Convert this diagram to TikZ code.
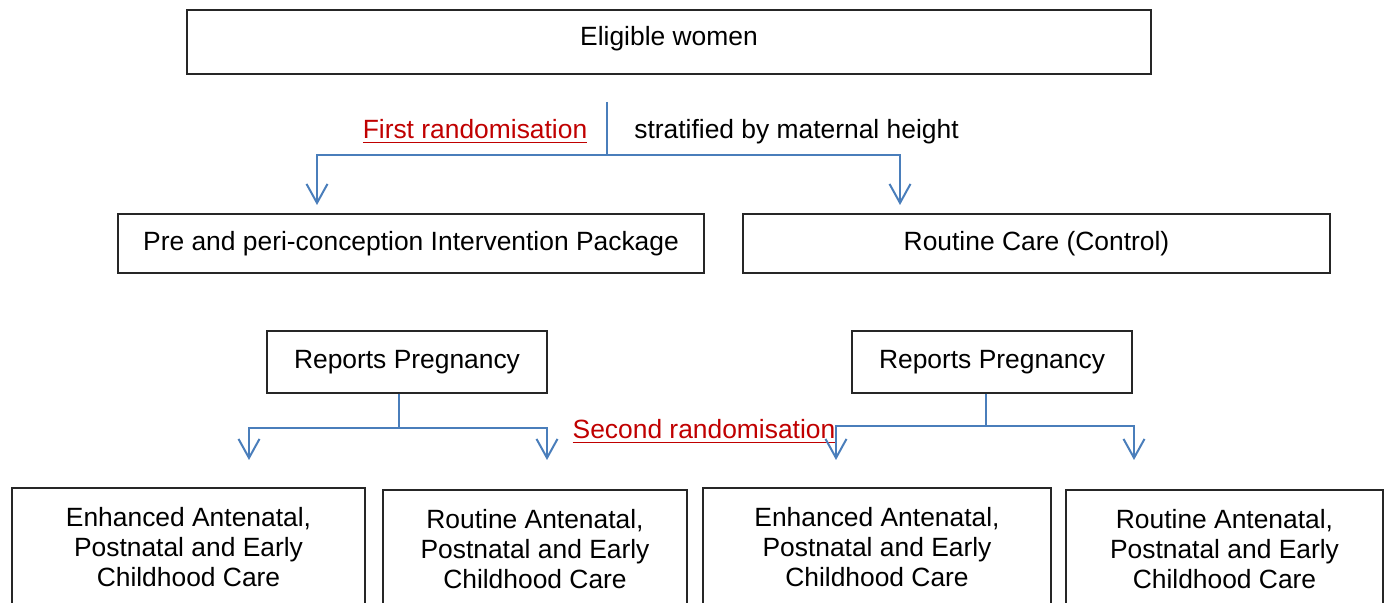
\documentclass[tikz,border=0pt]{standalone}
\usepackage{fontspec}
\setmainfont{Liberation Sans}
\usetikzlibrary{arrows.meta}

\definecolor{linkblue}{HTML}{4A7EBB}
\definecolor{randred}{HTML}{C00000}

\begin{document}
\begin{tikzpicture}[x=0.5pt, y=-0.5pt,
    box/.style={draw=black!85, line width=0.6pt, rectangle, inner sep=0pt,
      align=center, font=\fontsize{13.2}{15.2}\selectfont},
    link/.style={draw=linkblue, line width=1pt},
    arrow/.style={link, -{Straight Barb[length=9.5pt, width=10.5pt, line width=1pt]}},
    note/.style={anchor=base, inner sep=0pt, font=\fontsize{13.2}{15.2}\selectfont},
    randnote/.style={note, text=randred}]

  \useasboundingbox (0,0) rectangle (1391,603);

  % Boxes
  \node[box, minimum width=482pt, minimum height=32pt, text depth=6.3pt] (elig) at (669,42) {Eligible women};

  \node[box, minimum width=293pt, minimum height=29.5pt] (pre) at (411,243.5)
    {Pre and peri-conception Intervention Package};
  \node[box, minimum width=293.5pt, minimum height=29.5pt] (ctrl) at (1036.5,243.5)
    {Routine Care (Control)};

  \node[box, minimum width=140pt, minimum height=31pt] (repA) at (407,362) {Reports Pregnancy};
  \node[box, minimum width=140pt, minimum height=31pt] (repB) at (992,362) {Reports Pregnancy};

  \node[box, minimum width=176.5pt, minimum height=59pt] (enhA) at (188.5,547)
    {Enhanced Antenatal,\\Postnatal and Early\\Childhood Care};
  \node[box, minimum width=152pt, minimum height=59pt] (rouA) at (535,549)
    {Routine Antenatal,\\Postnatal and Early\\Childhood Care};
  \node[box, minimum width=174pt, minimum height=59pt] (enhB) at (877,547)
    {Enhanced Antenatal,\\Postnatal and Early\\Childhood Care};
  \node[box, minimum width=158.5pt, minimum height=59pt] (rouB) at (1224.5,549)
    {Routine Antenatal,\\Postnatal and Early\\Childhood Care};

  % Labels
  \node[randnote] (firstrand) at (475,139) {\underline{First randomisation}};
  \node[note] (strat) at (796.5,139) {stratified by maternal height};
  \node[randnote] (secondrand) at (704,439) {\underline{Second randomisation}};

  % First randomisation
  \coordinate (splitA) at (607,102);
  \coordinate (forkA) at (607,155);
  \coordinate (tipA) at (317,205);
  \coordinate (tipB) at (900,205);
  \draw[link] (splitA) -- (forkA);
  \draw[arrow] (forkA) -| (tipA);
  \draw[arrow] (forkA) -| (tipB);

  % Second randomisation
  \coordinate (forkB) at (399,428);
  \coordinate (tipC) at (249,460);
  \coordinate (tipD) at (547,460);
  \draw[link] (repA.south -| forkB) -- (forkB);
  \draw[arrow] (forkB) -| (tipC);
  \draw[arrow] (forkB) -| (tipD);

  \coordinate (forkC) at (986,426);
  \coordinate (tipE) at (836,460);
  \coordinate (tipF) at (1134,460);
  \draw[link] (repB.south -| forkC) -- (forkC);
  \draw[arrow] (forkC) -| (tipE);
  \draw[arrow] (forkC) -| (tipF);
\end{tikzpicture}
\end{document}
